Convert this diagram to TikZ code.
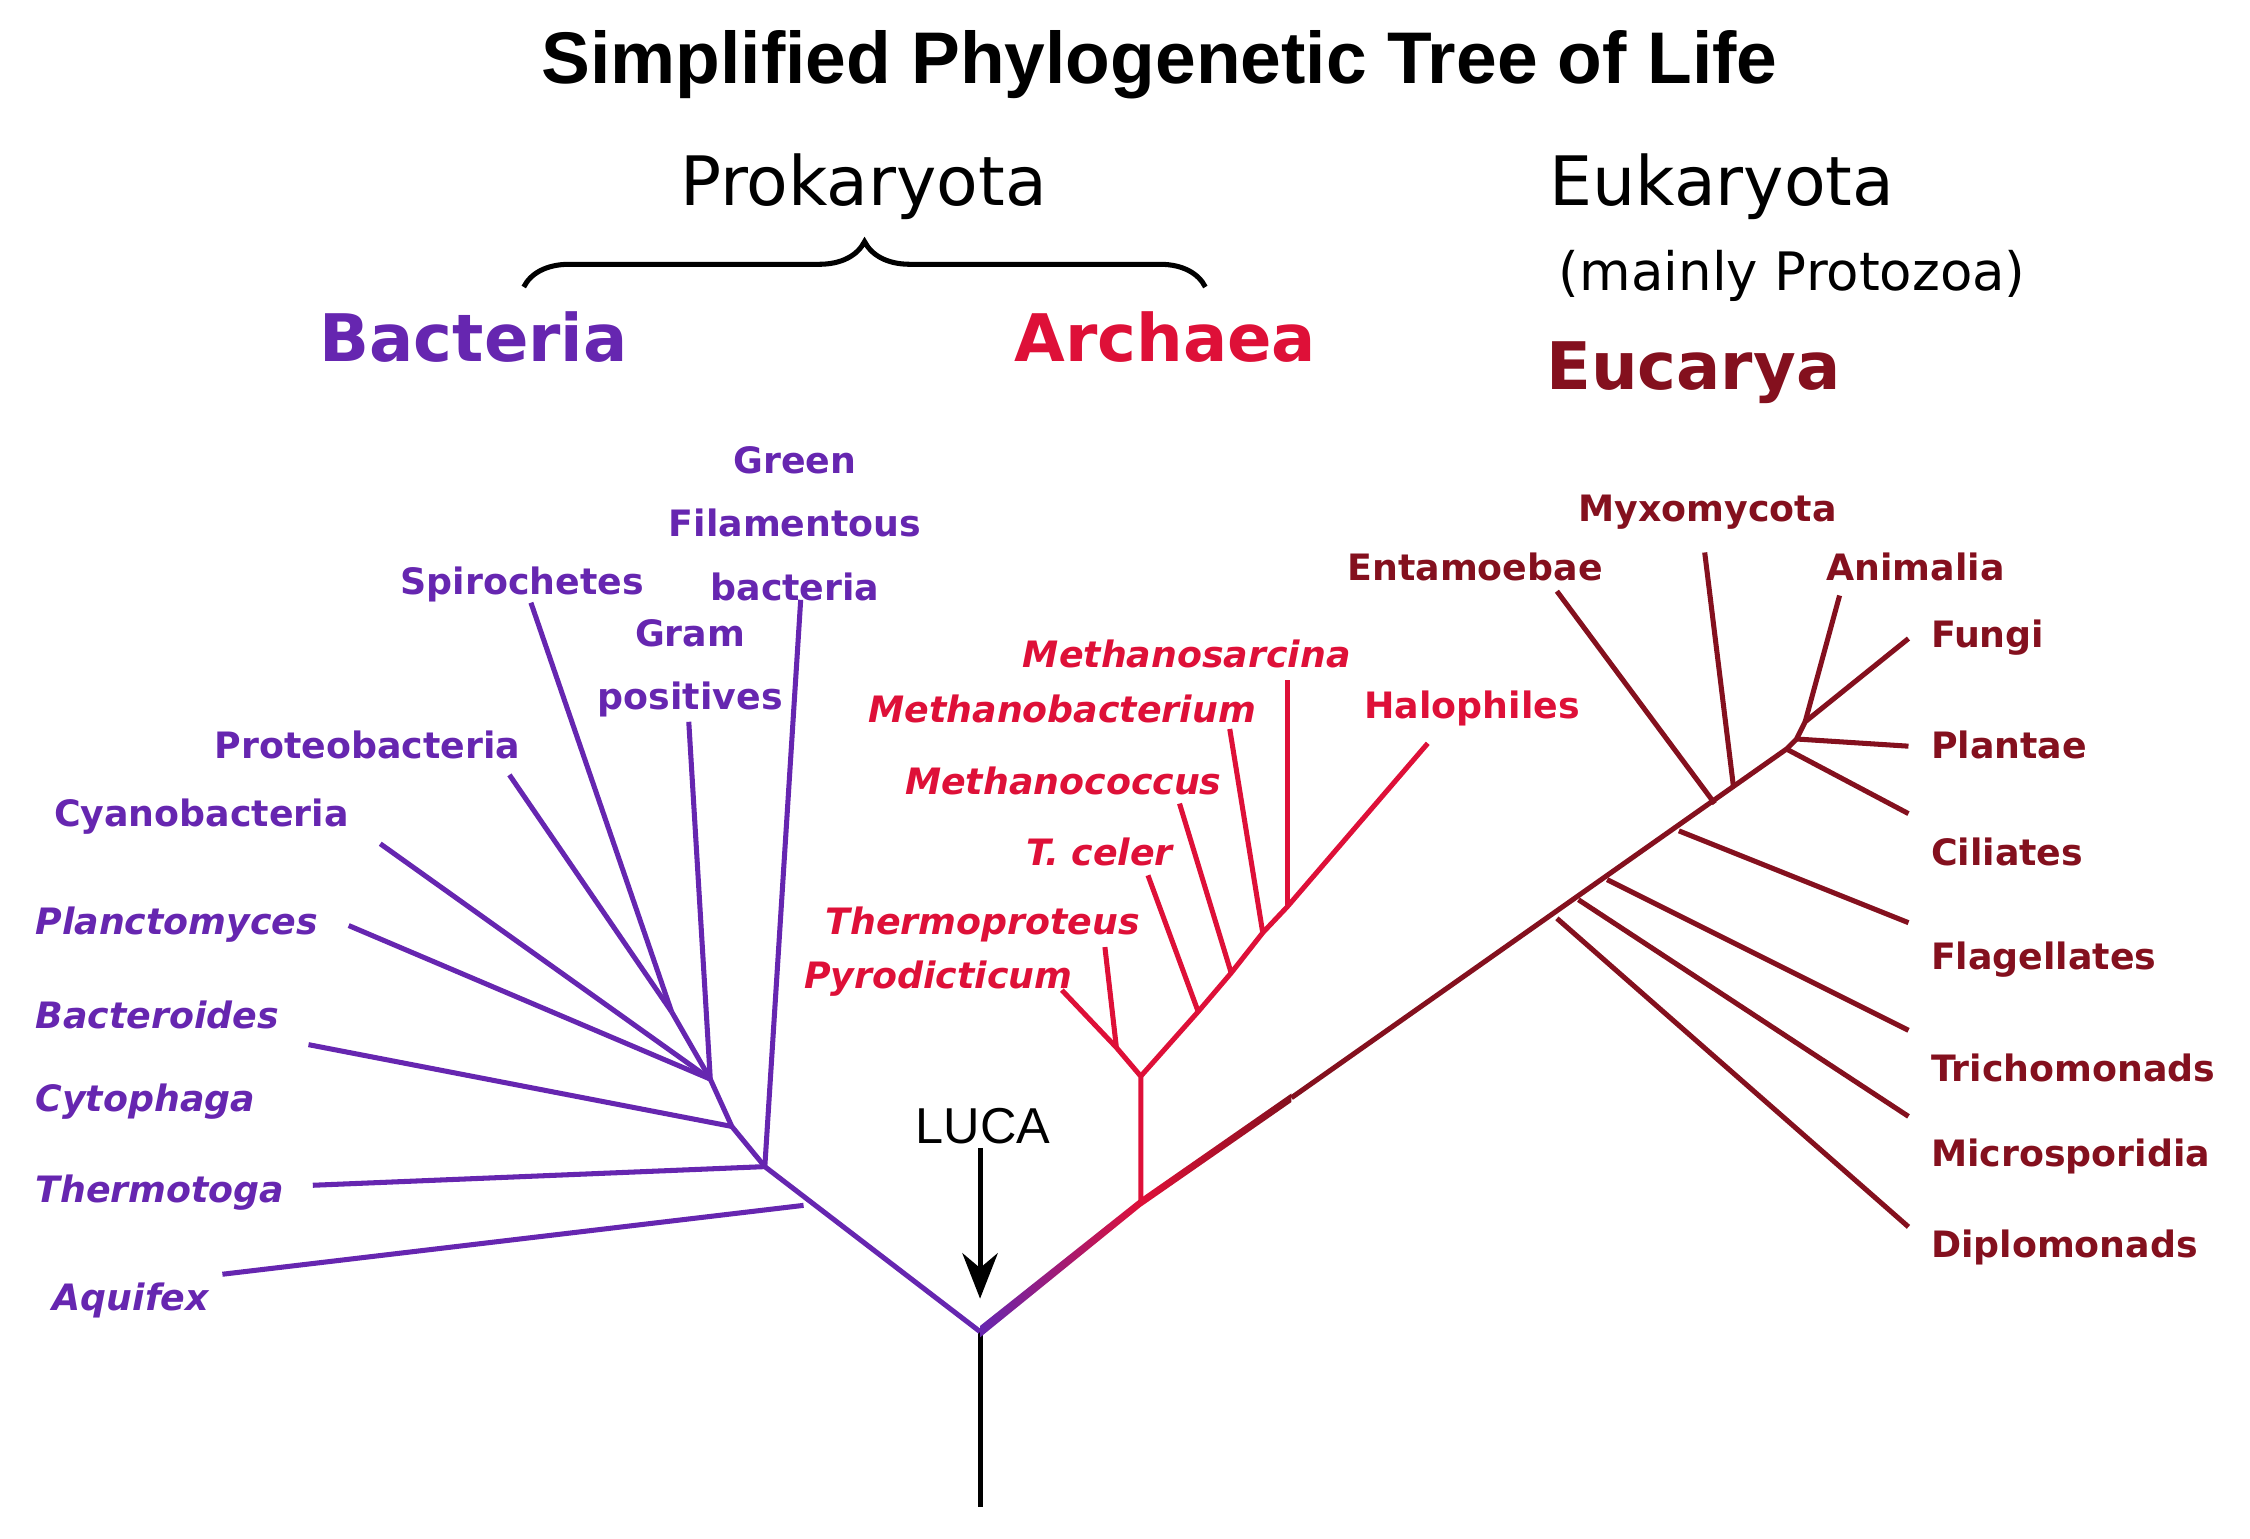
\documentclass[tikz,border=0pt]{standalone}
\usepackage{fontspec}
\setmainfont{DejaVu Sans}
\newfontfamily\arialf{Liberation Sans}
\usetikzlibrary{decorations.pathreplacing,arrows.meta}
\definecolor{bac}{RGB}{102,38,176}
\definecolor{arc}{RGB}{222,16,56}
\definecolor{euk}{RGB}{132,16,30}
\begin{document}
\begin{tikzpicture}[x=0.01cm,y=-0.01cm,
  lab/.style={font=\fontsize{7.2}{8.5}\selectfont\bfseries,inner sep=0pt},
  bl/.style={bac,line width=1pt},
  al/.style={arc,line width=1pt},
  el/.style={euk,line width=1pt}]
\useasboundingbox (0,0) rectangle (1568,1072);
% titles
\node (title) at (808,45) {\arialf\bfseries\fontsize{14.5}{17}\selectfont Simplified Phylogenetic Tree of Life};
\node (prok) at (602,130) {\fontsize{13.5}{16}\selectfont Prokaryota};
\draw[decorate,decoration={brace,amplitude=9pt},line width=1pt] (365,200) -- (840,200);
\node[bac] (bact) at (330,235) {\fontsize{13}{16}\selectfont\bfseries Bacteria};
\node[arc] (arch) at (812,235) {\fontsize{13}{16}\selectfont\bfseries Archaea};
\node (euka) at (1200,130) {\fontsize{13.5}{16}\selectfont Eukaryota};
\node (prot) at (1249,192) {\fontsize{10.5}{13}\selectfont (mainly Protozoa)};
\node[euk] (eucar) at (1180,260) {\fontsize{13}{16}\selectfont\bfseries Eucarya};
% root
\coordinate (root) at (683,928);
\draw[line width=1pt] (root) -- (683,1050);
\node (luca) at (685,785) {\arialf\fontsize{10}{12}\selectfont LUCA};
\coordinate (la) at (683,800);
\coordinate (lb) at (683,905);
\draw[line width=1pt,-{Stealth[length=9pt,width=7pt]}] (la) -- (lb);
% bacteria
\coordinate (b1) at (560,840);
\coordinate (b2) at (533,813);
\coordinate (b3) at (510,785);
\coordinate (b4) at (495,752);
\coordinate (b5) at (468,705);
\draw[bl] (root) -- (b2) -- (b3) -- (b4) -- (b5);
\draw[bl] (b1) -- (155,888);
\draw[bl] (b2) -- (218,826);
\draw[bl] (b2) -- (558,418);
\draw[bl] (b3) -- (215,728);
\draw[bl] (b4) -- (243,645);
\draw[bl] (b4) -- (480,503);
\draw[bl] (b4) -- (265,588);
\draw[bl] (b5) -- (355,540);
\draw[bl] (b5) -- (370,420);
\node[lab,bac,anchor=west] (aq) at (36,906) {\itshape Aquifex};
\node[lab,bac,anchor=west] (tt) at (24,831) {\itshape Thermotoga};
\node[lab,bac,anchor=west,align=left] (bc) at (24,739) {\itshape Bacteroides\\[8pt]\itshape Cytophaga};
\node[lab,bac,anchor=west] (pl) at (24,644) {\itshape Planctomyces};
\node[lab,bac,anchor=west] (cy) at (37,569) {Cyanobacteria};
\node[lab,bac,anchor=west] (pr) at (149,519) {Proteobacteria};
\node[lab,bac] (sp) at (364,407) {Spirochetes};
\node[lab,bac,align=center] (gp) at (481,466) {Gram\\[4pt]positives};
\node[lab,bac,align=center] (gf) at (554,365) {Green\\[4pt]Filamentous\\[4pt]bacteria};
% archaea
\coordinate (a0) at (795,838);
\coordinate (a1) at (795,750);
\coordinate (a2) at (778,730);
\coordinate (a3) at (835,705);
\coordinate (a4) at (858,678);
\coordinate (a5) at (880,650);
\coordinate (a6) at (897,632);
\shade[left color=bac,right color=arc] (683,924) -- (795,835) -- (795,841) -- (683,932) -- cycle;
\draw[al] (a0) -- (a1) -- (a2) -- (740,690);
\draw[al] (a2) -- (770,660);
\draw[al] (a1) -- (a3) -- (a4) -- (a5) -- (a6) -- (995,518);
\draw[al] (a3) -- (800,610);
\draw[al] (a4) -- (822,560);
\draw[al] (a5) -- (857,508);
\draw[al] (a6) -- (897,474);
\node[lab,arc,anchor=east] (py) at (748,682) {\itshape Pyrodicticum};
\node[lab,arc,anchor=east] (th) at (795,644) {\itshape Thermoproteus};
\node[lab,arc,anchor=east] (tc) at (818,594) {\itshape T. celer};
\node[lab,arc,anchor=east] (mc) at (852,544) {\itshape Methanococcus};
\node[lab,arc,anchor=east] (mb) at (876,494) {\itshape Methanobacterium};
\node[lab,arc,anchor=east] (ms) at (942,456) {\itshape Methanosarcina};
\node[lab,arc] (ha) at (1026,494) {Halophiles};
% eucarya
\coordinate (e1) at (1085,640);
\coordinate (e2) at (1100,627);
\coordinate (e3) at (1120,613);
\coordinate (e4) at (1170,579);
\coordinate (e5) at (1195,560);
\coordinate (e6) at (1208,548);
\coordinate (e7) at (1245,522);
\coordinate (e8) at (1258,503);
\shade[left color=arc,right color=euk] (795,835) -- (900,762) -- (900,768) -- (795,841) -- cycle;
\draw[el] (900,765) -- (e7) -- (1252,515) -- (e8) -- (1330,445);
\draw[el] (e8) -- (1282,415);
\draw[el] (1252,515) -- (1330,520);
\draw[el] (e7) -- (1330,567);
\draw[el] (e6) -- (1188,385);
\draw[el] (e5) -- (1085,412);
\draw[el] (e4) -- (1330,643);
\draw[el] (e3) -- (1330,718);
\draw[el] (e2) -- (1330,778);
\draw[el] (e1) -- (1330,855);
\node[lab,euk] (my) at (1190,357) {Myxomycota};
\node[lab,euk] (en) at (1028,395) {Entamoebae};
\node[lab,euk] (an) at (1335,395) {Animalia};
\node[lab,euk,anchor=west] (fu) at (1345,444) {Fungi};
\node[lab,euk,anchor=west] (pa) at (1345,519) {Plantae};
\node[lab,euk,anchor=west] (ci) at (1345,594) {Ciliates};
\node[lab,euk,anchor=west] (fl) at (1345,669) {Flagellates};
\node[lab,euk,anchor=west] (tr) at (1345,744) {Trichomonads};
\node[lab,euk,anchor=west] (mi) at (1345,806) {Microsporidia};
\node[lab,euk,anchor=west] (di) at (1345,869) {Diplomonads};
\end{tikzpicture}
\end{document}
